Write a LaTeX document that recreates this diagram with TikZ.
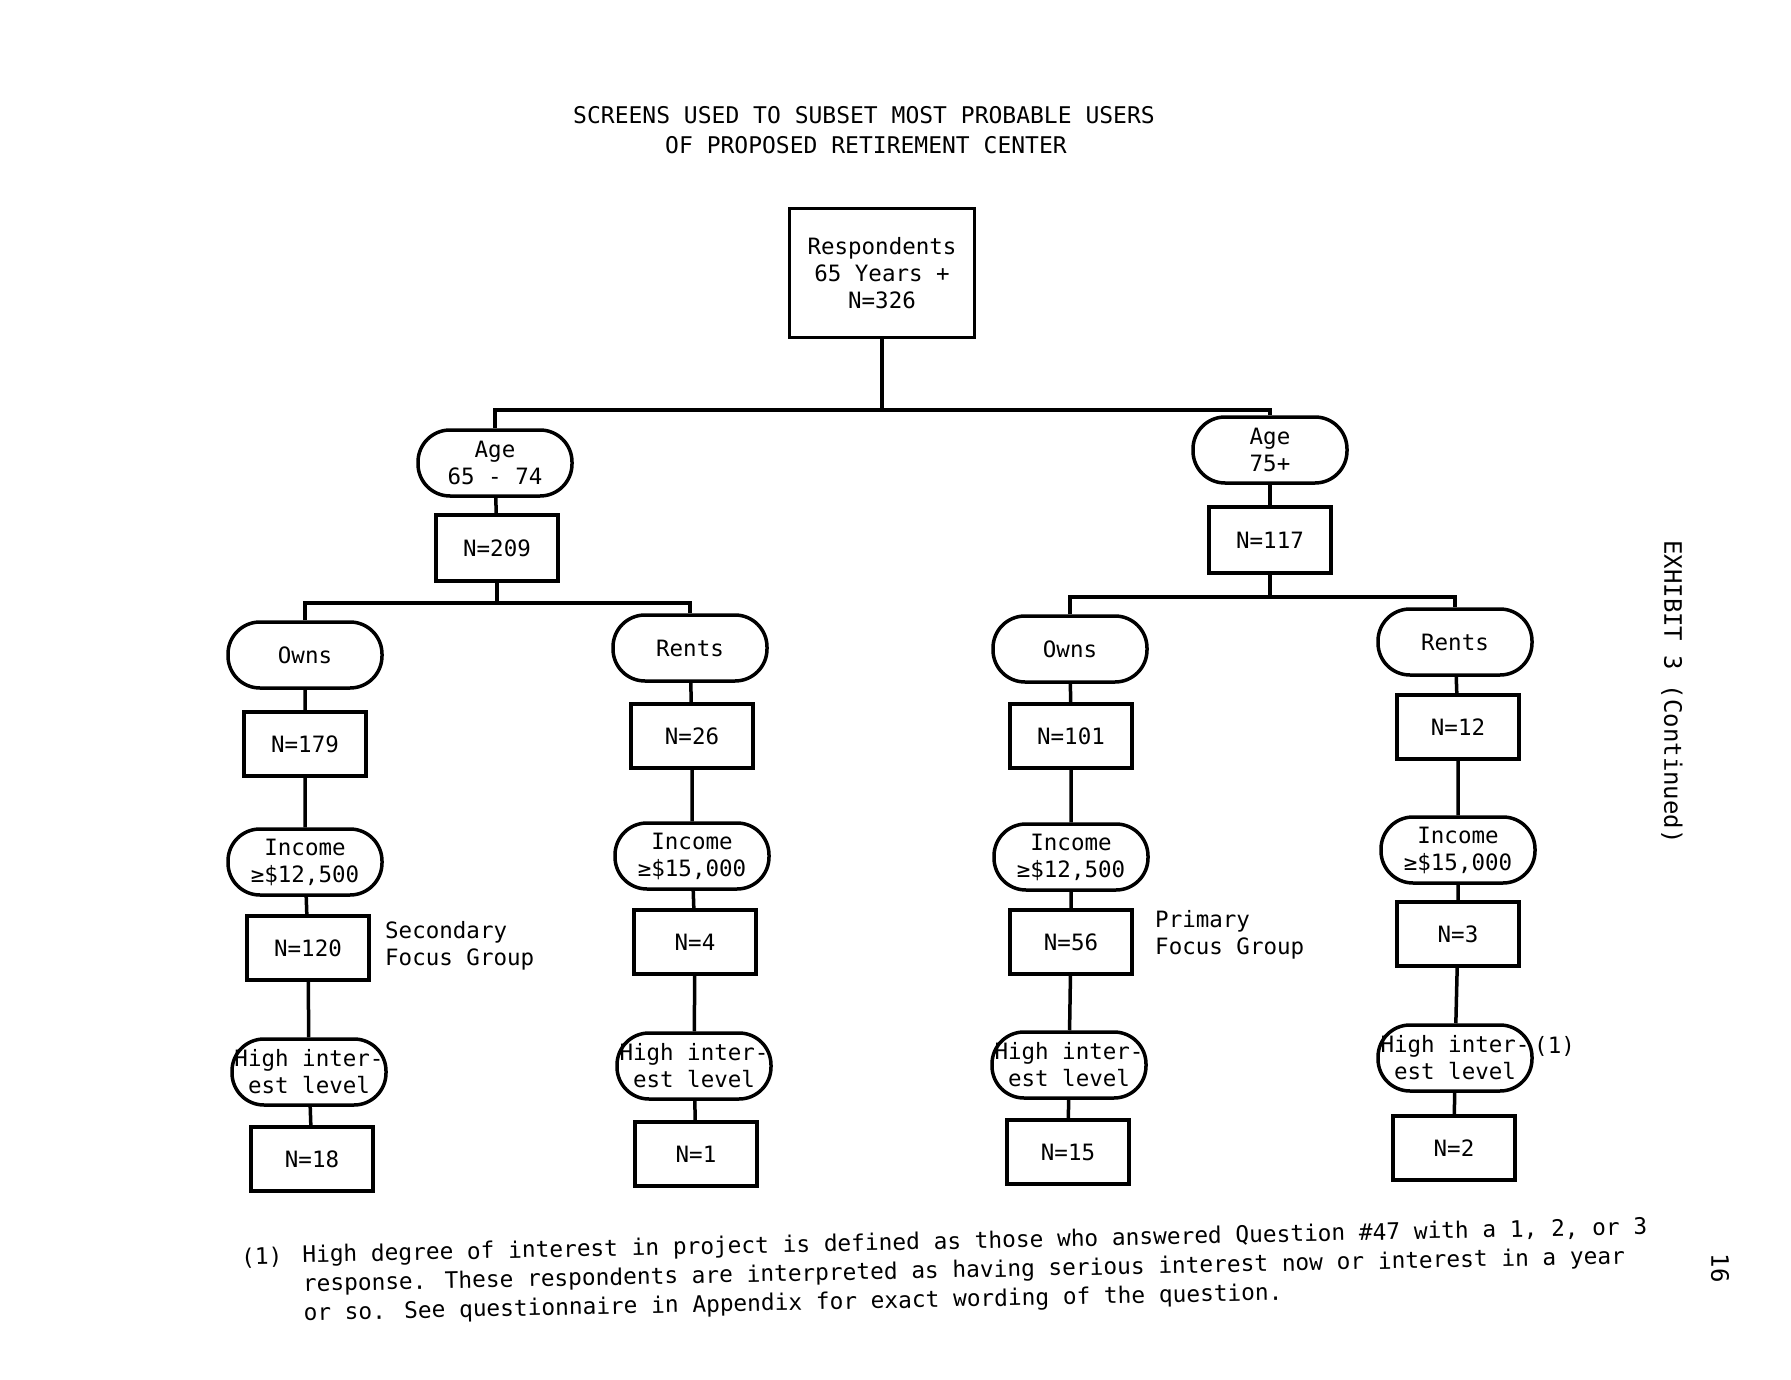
\documentclass[tikz,border=0pt]{standalone}
\usepackage{fontspec}
\setmainfont{DejaVu Sans Mono}
\begin{document}
\begin{tikzpicture}[x=1pt,y=-1pt,
  every node/.style={font=\fontsize{22.5}{27}\selectfont, align=center, inner sep=0pt},
  nbox/.style={draw, line width=3.5pt, minimum width=122pt, minimum height=64pt},
  pill/.style={draw, line width=3.5pt, rounded corners=32pt, minimum width=154pt, minimum height=66pt},
  link/.style={line width=3.5pt},
  titletext/.style={font=\fontsize{23}{28}\selectfont},
  note/.style={rotate=1.2, font=\fontsize{22.8}{29}\selectfont}]
\fill[white] (0,0) rectangle (1791,1380);
\useasboundingbox (0,0) rectangle (1791,1380);
% title
\node[titletext] (title1) at (864,115) {SCREENS USED TO SUBSET MOST PROBABLE USERS};
\node[titletext] (title2) at (866,145) {OF PROPOSED RETIREMENT CENTER};
% root
\node[draw, line width=3.5pt, minimum width=185pt, minimum height=129pt] (root) at (882,273) {Respondents\\65 Years +\\N=326};
% level 1
\node[pill] (age1) at (495,463) {Age\\65 - 74};
\node[nbox, minimum height=66pt] (n209) at (497,548) {N=209};
\node[pill] (age2) at (1270,450) {Age\\75+};
\node[nbox, minimum height=66pt] (n117) at (1270,540) {N=117};
% column 1
\node[pill] (own1) at (305,655) {Owns};
\node[nbox] (n179) at (305,744) {N=179};
\node[pill] (inc1) at (305,862) {Income\\≥\$12,500};
\node[nbox] (n120) at (308,948) {N=120};
\node[pill] (hi1) at (309,1072) {High inter-\\est level};
\node[nbox] (n18) at (312,1159) {N=18};
% column 2
\node[pill] (rent1) at (690,648) {Rents};
\node[nbox] (n26) at (692,736) {N=26};
\node[pill] (inc2) at (692,856) {Income\\≥\$15,000};
\node[nbox] (n4) at (695,942) {N=4};
\node[pill] (hi2) at (694,1066) {High inter-\\est level};
\node[nbox] (n1) at (696,1154) {N=1};
% column 3
\node[pill] (own2) at (1070,649) {Owns};
\node[nbox] (n101) at (1071,736) {N=101};
\node[pill] (inc3) at (1071,857) {Income\\≥\$12,500};
\node[nbox] (n56) at (1071,942) {N=56};
\node[pill] (hi3) at (1069,1065) {High inter-\\est level};
\node[nbox] (n15) at (1068,1152) {N=15};
% column 4
\node[pill] (rent2) at (1455,642) {Rents};
\node[nbox] (n12) at (1458,727) {N=12};
\node[pill] (inc4) at (1458,850) {Income\\≥\$15,000};
\node[nbox] (n3) at (1458,934) {N=3};
\node[pill] (hi4) at (1455,1058) {High inter-\\est level};
\node[nbox] (n2) at (1454,1148) {N=2};
% side labels
\node[anchor=west, align=left] (sec) at (385,946) {Secondary\\Focus Group};
\node[anchor=west, align=left] (pri) at (1155,935) {Primary\\Focus Group};
\node[anchor=west] (fnmark) at (1534,1046) {(1)};
% junctions
\coordinate (j1) at (882,410);
\coordinate (j2) at (497,603);
\coordinate (j3) at (1270,597);
\draw[link] (root.south) -- (j1);
\draw[link] (age1.north) |- (j1) -| (age2.north);
\draw[link] (age1) -- (n209);
\draw[link] (n209.south) -- (j2);
\draw[link] (own1.north) |- (j2) -| (rent1.north);
\draw[link] (age2) -- (n117);
\draw[link] (n117.south) -- (j3);
\draw[link] (own2.north) |- (j3) -| (rent2.north);
\draw[link] (own1) -- (n179) -- (inc1) -- (n120) -- (hi1) -- (n18);
\draw[link] (rent1) -- (n26) -- (inc2) -- (n4) -- (hi2) -- (n1);
\draw[link] (own2) -- (n101) -- (inc3) -- (n56) -- (hi3) -- (n15);
\draw[link] (rent2) -- (n12) -- (inc4) -- (n3) -- (hi4) -- (n2);
% rotated labels
\node[rotate=-90, font=\fontsize{24}{28}\selectfont] (exhibit) at (1672,692) {EXHIBIT 3 (Continued)};
\node[rotate=-90, font=\fontsize{24}{28}\selectfont] (page) at (1720,1268) {16};
% footnote
\node[note, anchor=west] (fn0) at (241,1258) {(1)};
\node[note, anchor=north west, align=left] (fn) at (302,1245) {High degree of interest in project is defined as those who answered Question \#47 with a 1, 2, or 3\\response.  These respondents are interpreted as having serious interest now or interest in a year\\or so.  See questionnaire in Appendix for exact wording of the question.};
\end{tikzpicture}
\end{document}
